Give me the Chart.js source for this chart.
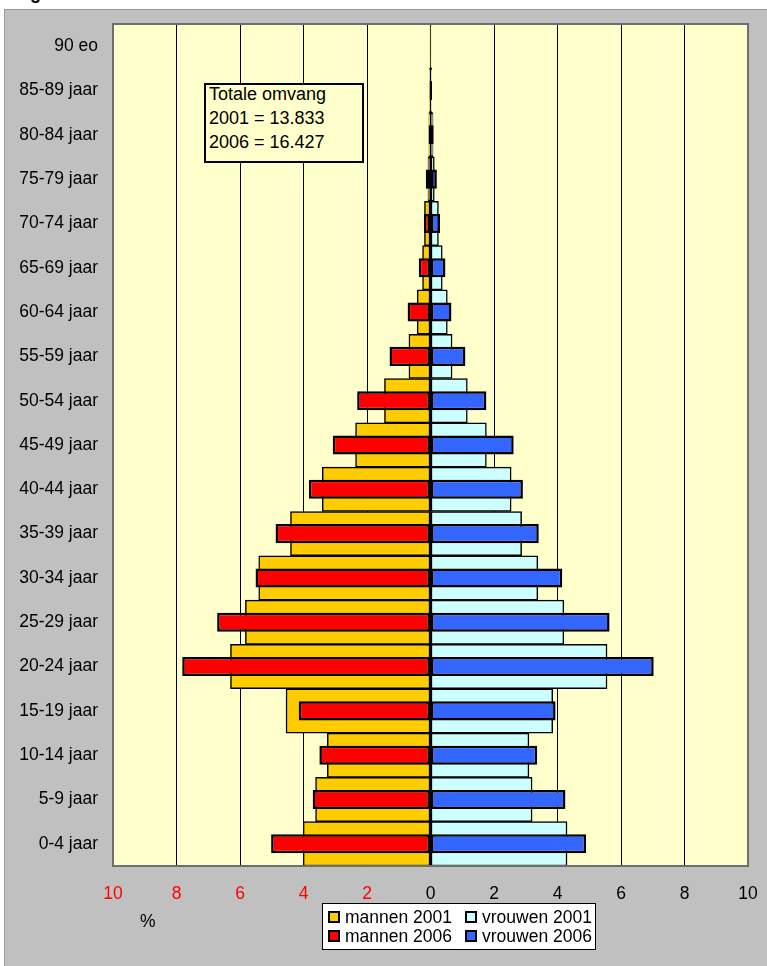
<!DOCTYPE html>
<html>
<head>
<meta charset="utf-8">
<script src="https://cdn.jsdelivr.net/npm/chart.js@4.4.1/dist/chart.umd.min.js"></script>
<style>
  body { margin: 0; background: #fff; font-family: "Liberation Sans", Arial, sans-serif; }
  #wrap { position: relative; width: 767px; height: 966px; overflow: hidden; }
  #bg { position: absolute; left: 4px; top: 9px; width: 770px; height: 970px; background: #c0c0c0; border: 1px solid #999; }
  #chart { position: absolute; left: 0; top: 0; }
  .txt { position: absolute; color: #000; font-size: 17.5px; white-space: nowrap; }
  #note { position: absolute; left: 204px; top: 83px; width: 160px; height: 80px; box-sizing: border-box;
          background: #ffffcc; border: 2px solid #000; }
  #noteText { position: absolute; left: 209px; top: 83px; font-size: 18px; line-height: 23.8px; }
  #legend { position: absolute; left: 322px; top: 903px; width: 274px; height: 47px; box-sizing: border-box;
            background: #fff; border: 1px solid #000; }
  .sw { position: absolute; width: 12px; height: 12px; box-sizing: border-box; border: 2px solid #000; }
  .lt { position: absolute; font-size: 17.5px; line-height: 20px; white-space: nowrap; }
</style>
</head>
<body>
<div id="wrap">
  <div class="txt" style="left:30px; top:-17px; font-weight:bold; font-size:18px;">g</div>
  <div id="bg"></div>
  <canvas id="chart" width="767" height="966"></canvas>
  <div id="note"></div>
  <div id="noteText">Totale omvang<br>2001 = 13.833<br>2006 = 16.427</div>
  <div class="txt" style="left:140px; top:911px;">%</div>
  <div id="legend"></div>
</div>
<script>
// age groups, bottom to top
const ageGroups = ['0-4 jaar', '5-9 jaar', '10-14 jaar', '15-19 jaar', '20-24 jaar', '25-29 jaar',
  '30-34 jaar', '35-39 jaar', '40-44 jaar', '45-49 jaar', '50-54 jaar', '55-59 jaar', '60-64 jaar',
  '65-69 jaar', '70-74 jaar', '75-79 jaar', '80-84 jaar', '85-89 jaar', '90 eo'];

// percentages of total population
const mannen2001 = [4.01, 3.62, 3.25, 4.55, 6.30, 5.83, 5.41, 4.41, 3.41, 2.36, 1.45, 0.68, 0.42, 0.25, 0.19, 0.08, 0.05, 0.03, 0.01];
const mannen2006 = [5.02, 3.71, 3.50, 4.15, 7.82, 6.72, 5.51, 4.88, 3.83, 3.08, 2.31, 1.29, 0.72, 0.37, 0.21, 0.15, 0.06, 0.03, 0.01];
const vrouwen2001 = [4.30, 3.20, 3.10, 3.85, 5.56, 4.20, 3.38, 2.87, 2.54, 1.76, 1.16, 0.68, 0.53, 0.37, 0.25, 0.12, 0.08, 0.04, 0.02];
const vrouwen2006 = [4.90, 4.25, 3.36, 3.94, 7.03, 5.64, 4.15, 3.41, 2.91, 2.62, 1.76, 1.10, 0.66, 0.47, 0.30, 0.20, 0.10, 0.05, 0.02];

const xTicks = [-10, -8, -6, -4, -2, 0, 2, 4, 6, 8, 10];

const wide = { grouped: false, categoryPercentage: 1, barPercentage: 1, borderColor: '#000', borderWidth: 1.5, borderSkipped: false, order: 1 };
const narrow = { grouped: false, categoryPercentage: 1, barPercentage: 0.43, borderColor: '#000', borderWidth: 2.5, borderSkipped: false, order: 0 };

const plotBg = {
  id: 'plotBg',
  beforeDraw(chart) {
    const { ctx, chartArea: a } = chart;
    ctx.save();
    ctx.fillStyle = '#ffffcc';
    ctx.fillRect(a.left, a.top, a.right - a.left, a.bottom - a.top);
    ctx.restore();
  },
  afterDraw(chart) {
    const { ctx, chartArea: a } = chart;
    ctx.save();
    ctx.strokeStyle = '#6e6e6e';
    ctx.lineWidth = 2;
    ctx.strokeRect(a.left, a.top, a.right - a.left, a.bottom - a.top);
    ctx.restore();
  }
};

const chart = new Chart(document.getElementById('chart'), {
  type: 'bar',
  data: {
    labels: ageGroups,
    datasets: [
      Object.assign({ label: 'mannen 2001', data: mannen2001.map(v => -v), backgroundColor: '#ffcc00' }, wide),
      Object.assign({ label: 'vrouwen 2001', data: vrouwen2001, backgroundColor: '#ccffff' }, wide),
      Object.assign({ label: 'mannen 2006', data: mannen2006.map(v => -v), backgroundColor: '#ff0000' }, narrow),
      Object.assign({ label: 'vrouwen 2006', data: vrouwen2006, backgroundColor: '#3366ff' }, narrow)
    ]
  },
  options: {
    indexAxis: 'y',
    responsive: false,
    animation: false,
    layout: { padding: { top: 24, right: 19, left: 0, bottom: 0 } },
    plugins: { legend: { display: false }, tooltip: { enabled: false } },
    scales: {
      x: {
        min: -10, max: 10,
        afterBuildTicks(scale) { scale.ticks = xTicks.map(v => ({ value: v })); },
        afterFit(scale) {
          scale.height = 100;
          scale.paddingLeft = 0;
          scale.paddingRight = 0;
        },
        border: { display: false },
        grid: {
          drawTicks: false,
          lineWidth: 1,
          color: ctx => (Math.abs(ctx.tick.value) === 10 ? 'rgba(0,0,0,0)' : '#000')
        },
        ticks: {
          padding: 18,
          font: { family: 'Liberation Sans, Arial', size: 17.5 },
          color: ctx => (ctx.tick.value < 0 ? '#ff0000' : '#000'),
          callback: v => Math.abs(v)
        }
      },
      y: {
        reverse: true,
        afterFit(scale) {
          scale.width = 113;
          scale.paddingTop = 0;
          scale.paddingBottom = 0;
        },
        border: { display: false },
        grid: { display: false, drawTicks: false },
        ticks: {
          autoSkip: false,
          padding: 15,
          font: { family: 'Liberation Sans, Arial', size: 17.5 },
          color: '#000'
        }
      }
    }
  },
  plugins: [plotBg]
});

// legend box, two columns like the original
const legendPos = {
  'mannen 2001': [5, 6], 'vrouwen 2001': [142, 6],
  'mannen 2006': [5, 25], 'vrouwen 2006': [142, 25]
};
const legend = document.getElementById('legend');
chart.data.datasets.forEach(ds => {
  const [x, y] = legendPos[ds.label];
  const sw = document.createElement('div');
  sw.className = 'sw';
  sw.style.left = x + 'px';
  sw.style.top = (y + 1) + 'px';
  sw.style.background = ds.backgroundColor;
  legend.appendChild(sw);
  const t = document.createElement('div');
  t.className = 'lt';
  t.style.left = (x + 17) + 'px';
  t.style.top = (y - 3) + 'px';
  t.textContent = ds.label;
  legend.appendChild(t);
});
</script>
</body>
</html>
